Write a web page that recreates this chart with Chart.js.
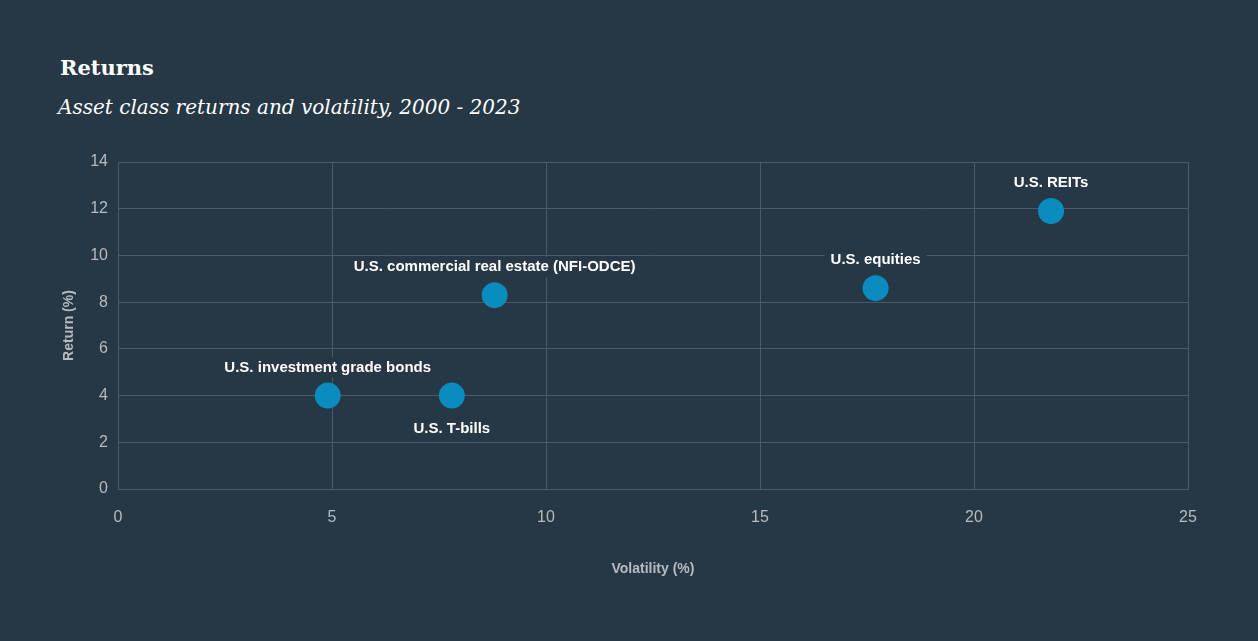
<!DOCTYPE html>
<html>
<head>
<meta charset="utf-8">
<script src="https://cdn.jsdelivr.net/npm/chart.js@4.4.1/dist/chart.umd.min.js"></script>
<style>
  html, body { margin: 0; padding: 0; background: #263746; }
  #wrap { position: relative; width: 1258px; height: 641px; }
  #title { position: absolute; left: 60px; top: 55px; color: #fff; font: bold 21px "DejaVu Serif", "Liberation Serif", serif; }
  #subtitle { position: absolute; left: 58px; top: 95px; color: #fff; font: italic 20px "DejaVu Serif", "Liberation Serif", serif; }
  canvas { position: absolute; left: 0; top: 0; }
</style>
</head>
<body>
<div id="wrap">
  <div id="title">Returns</div>
  <div id="subtitle">Asset class returns and volatility, 2000 - 2023</div>
  <canvas id="returnsChart" width="1258" height="641"></canvas>
</div>
<script>
// asset classes, volatility (%) and return (%)
const assetNames = ["U.S. investment grade bonds", "U.S. T-bills", "U.S. commercial real estate (NFI-ODCE)", "U.S. equities", "U.S. REITs"];
const volatility = [4.9, 7.8, 8.8, 17.7, 21.8];
const returns = [4.0, 4.0, 8.3, 8.6, 11.9];
const labelSide = ["above", "below", "above", "above", "above"];

const bgColor = "#263746";
const gridColor = "#4a5a68";
const tickColor = "#b6bbc0";
const labelFont = '"Liberation Sans Narrow", "Liberation Sans", Arial, sans-serif';

// draws the point names with a background box so gridlines are hidden behind them
const pointLabels = {
    id: "pointLabels",
    afterDatasetsDraw(chart) {
        const ctx = chart.ctx;
        const meta = chart.getDatasetMeta(0);
        ctx.save();
        ctx.font = "bold 15px " + labelFont;
        ctx.textAlign = "center";
        ctx.textBaseline = "middle";
        meta.data.forEach((pt, i) => {
            const text = assetNames[i];
            const y = labelSide[i] === "below" ? pt.y + 33 : pt.y - 28;
            const w = ctx.measureText(text).width;
            ctx.fillStyle = bgColor;
            ctx.fillRect(pt.x - w / 2 - 6, y - 10, w + 12, 20);
            ctx.fillStyle = "#ffffff";
            ctx.fillText(text, pt.x, y);
        });
        ctx.restore();
    }
};

new Chart(document.getElementById("returnsChart"), {
    type: 'scatter',
    data: {
        datasets: [{
            label: "Asset classes",
            data: volatility.map((v, i) => ({ x: v, y: returns[i] })),
            backgroundColor: "#0a8cbf",
            borderWidth: 0,
            pointRadius: 13,
            pointHoverRadius: 13
        }]
    },
    options: {
        responsive: false,
        animation: false,
        layout: {
            padding: { left: 57, top: 162, right: 70, bottom: 52 }
        },
        plugins: {
            legend: { display: false },
            tooltip: { enabled: false }
        },
        scales: {
            x: {
                min: 0,
                max: 25,
                ticks: {
                    stepSize: 5,
                    color: tickColor,
                    padding: 19,
                    font: { family: labelFont, size: 16 }
                },
                grid: { color: gridColor, drawTicks: false },
                border: { color: gridColor },
                title: {
                    display: true,
                    text: "Volatility (%)",
                    color: tickColor,
                    font: { family: labelFont, size: 14, weight: 'bold' },
                    padding: { top: 23, bottom: 11 }
                },
                afterFit(scale) { scale.height = 100; }
            },
            y: {
                min: 0,
                max: 14,
                ticks: {
                    stepSize: 2,
                    color: tickColor,
                    padding: 10,
                    font: { family: labelFont, size: 16 }
                },
                grid: { color: gridColor, drawTicks: false },
                border: { color: gridColor },
                title: {
                    display: true,
                    text: "Return (%)",
                    color: tickColor,
                    font: { family: labelFont, size: 14, weight: 'bold' }
                },
                afterFit(scale) { scale.width = 61; }
            }
        }
    },
    plugins: [pointLabels]
});
</script>
</body>
</html>
